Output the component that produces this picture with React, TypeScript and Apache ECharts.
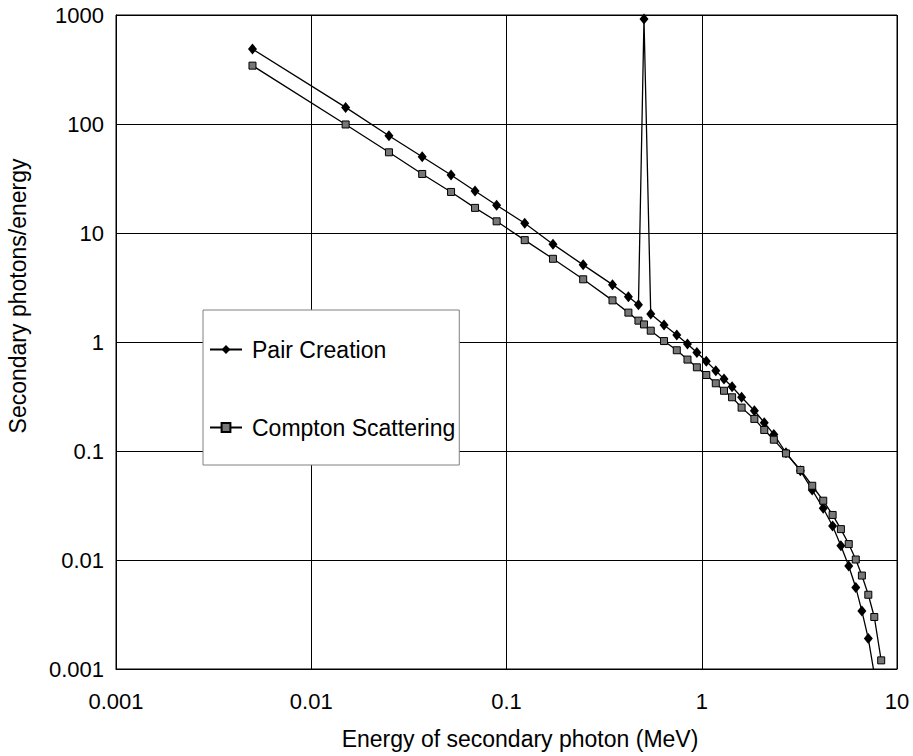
import React, { useEffect, useRef } from "react";
import * as echarts from "echarts";

const energies = [
  0.005, 0.015, 0.025, 0.037, 0.052, 0.069, 0.089, 0.124, 0.173, 0.247, 0.349,
  0.421, 0.474, 0.506, 0.548, 0.641, 0.745, 0.845, 0.944, 1.055, 1.18, 1.3,
  1.43, 1.6, 1.86, 2.09, 2.34, 2.7, 3.2, 3.68, 4.19, 4.68, 5.16, 5.66, 6.15,
  6.61, 7.13, 7.65, 8.3,
];

const pairCreation: (number | null)[] = [
  487, 142, 78, 50, 34, 24.3, 18, 12.3, 7.9, 5.1, 3.36, 2.6, 2.2, 918, 1.81,
  1.43, 1.16, 0.96, 0.8, 0.665, 0.546, 0.458, 0.389, 0.311, 0.234, 0.182, 0.142,
  0.0964, 0.066, 0.0439, 0.0298, 0.0205, 0.0135, 0.0088, 0.0056, 0.0034, 0.0019,
  0.0009, null,
];

const comptonScattering: (number | null)[] = [
  343, 99, 55, 34.8, 23.8, 17, 12.8, 8.6, 5.8, 3.76, 2.41, 1.86, 1.57, 1.45,
  1.27, 1.02, 0.84, 0.69, 0.586, 0.498, 0.418, 0.357, 0.311, 0.25, 0.197, 0.156,
  0.127, 0.095, 0.067, 0.048, 0.035, 0.0259, 0.0192, 0.014, 0.0101, 0.0072,
  0.0048, 0.003, 0.0012,
];

const seriesNames = ["Pair Creation", "Compton Scattering"];
const xTickLabels = ["0.001", "0.01", "0.1", "1", "10"];
const yTickLabels = ["0.001", "0.01", "0.1", "1", "10", "100", "1000"];
const xAxisTitle = "Energy of secondary photon (MeV)";
const yAxisTitle = "Secondary photons/energy";

const FONT = "'Liberation Sans', Arial, sans-serif";

function labelFor(list: string[], minExp: number) {
  return (v: number) => {
    const idx = Math.round(Math.log10(v)) - minExp;
    return list[idx] ?? "";
  };
}

export default function App() {
  const ref = useRef<HTMLDivElement>(null);

  useEffect(() => {
    if (!ref.current) return;
    const chart = echarts.init(ref.current, undefined, { renderer: "svg" });
    const toPairs = (vals: (number | null)[]) =>
      energies.map((e, i) => [e, vals[i] == null ? "-" : vals[i]]);

    chart.setOption({
      animation: false,
      backgroundColor: "#fff",
      textStyle: { fontFamily: FONT },
      grid: {
        left: 116,
        top: 15,
        right: 16,
        bottom: 87,
        show: true,
        borderColor: "#000",
        borderWidth: 1,
        backgroundColor: "transparent",
      },
      legend: {
        orient: "vertical",
        left: 203,
        top: 310,
        padding: [28, 4, 26, 6],
        itemGap: 55,
        itemWidth: 32,
        itemHeight: 11,
        backgroundColor: "#fff",
        borderColor: "#808080",
        borderWidth: 1,
        borderRadius: 0,
        textStyle: {
          fontFamily: FONT,
          fontSize: 23,
          color: "#000",
          padding: [0, 0, 0, 5],
        },
        data: seriesNames,
      },
      xAxis: {
        type: "log",
        logBase: 10,
        min: 0.001,
        max: 10,
        axisLine: { show: true, lineStyle: { color: "#000", width: 1 } },
        axisTick: { show: false },
        axisLabel: {
          fontFamily: FONT,
          fontSize: 22,
          color: "#000",
          margin: 21,
          formatter: labelFor(xTickLabels, -3),
        },
        splitLine: { show: true, lineStyle: { color: "#000", width: 1 } },
      },
      yAxis: {
        type: "log",
        logBase: 10,
        min: 0.001,
        max: 1000,
        axisLine: { show: true, lineStyle: { color: "#000", width: 1 } },
        axisTick: { show: false },
        axisLabel: {
          fontFamily: FONT,
          fontSize: 22,
          color: "#000",
          margin: 12,
          formatter: labelFor(yTickLabels, -3),
        },
        splitLine: { show: true, lineStyle: { color: "#000", width: 1 } },
      },
      graphic: [
        {
          type: "text",
          x: 520,
          y: 739,
          style: {
            text: xAxisTitle,
            fontFamily: FONT,
            fontSize: 23,
            fill: "#000",
            textAlign: "center",
            textVerticalAlign: "middle",
          },
        },
        {
          type: "text",
          x: 18,
          y: 296,
          rotation: Math.PI / 2,
          style: {
            text: yAxisTitle,
            fontFamily: FONT,
            fontSize: 23,
            fill: "#000",
            textAlign: "center",
            textVerticalAlign: "middle",
          },
        },
      ],
      series: [
        {
          name: seriesNames[0],
          type: "line",
          data: toPairs(pairCreation),
          symbol: "diamond",
          symbolSize: [9, 11],
          showAllSymbol: true,
          clip: true,
          lineStyle: { color: "#000", width: 1.3 },
          itemStyle: { color: "#000", borderColor: "#000", borderWidth: 0 },
          emphasis: { disabled: true },
          z: 2,
        },
        {
          name: seriesNames[1],
          type: "line",
          data: toPairs(comptonScattering),
          symbol: "rect",
          symbolSize: 7,
          showAllSymbol: true,
          clip: true,
          lineStyle: { color: "#000", width: 1.3 },
          itemStyle: { color: "#777", borderColor: "#000", borderWidth: 1 },
          emphasis: { disabled: true },
          z: 3,
        },
      ],
    });
    return () => chart.dispose();
  }, []);

  return (
    <div
      ref={ref}
      style={{ position: "fixed", left: 0, top: 0, width: 913, height: 756, background: "#fff" }}
    />
  );
}
